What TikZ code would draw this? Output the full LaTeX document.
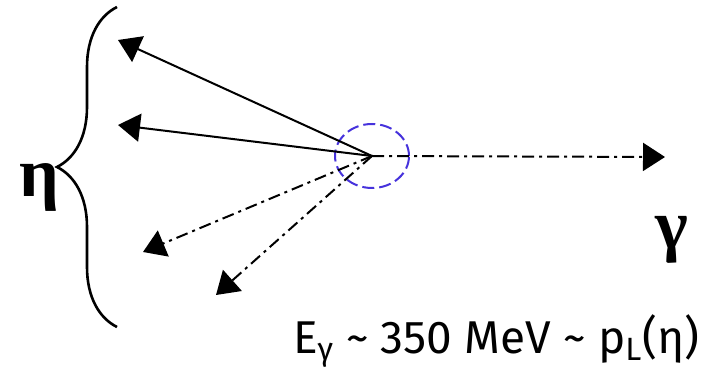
\documentclass[tikz,border=0pt]{standalone}
\usepackage{fontspec}
\setsansfont{Fira Sans}
\newfontfamily\grkfont{Liberation Serif}
\usepackage{tikz}
\usetikzlibrary{arrows.meta,shapes.geometric,decorations.pathreplacing}
\definecolor{vtxblue}{RGB}{70,50,220}

\begin{document}
\begin{tikzpicture}[x=0.5pt,y=-0.5pt,>={Triangle[length=11pt,width=14pt]},line width=1pt,
    decay/.style={->,dash pattern=on 6pt off 2.5pt on 1.5pt off 2.5pt},
    bigsym/.style={font=\grkfont\bfseries\fontsize{35}{35}\selectfont,inner sep=0pt}]
  \useasboundingbox (0,0) rectangle (727,368);

  % decay vertex
  \node[ellipse,draw=vtxblue,dash pattern=on 6pt off 2.5pt,minimum width=37pt,
        minimum height=32pt,inner sep=0pt] (vtx) at (372,156) {};

  % end points of the decay products
  \coordinate (pa) at (118,40);
  \coordinate (pb) at (118,125);
  \coordinate (pc) at (143,252);
  \coordinate (pd) at (216,295);
  \coordinate (pg) at (665,157);

  \draw[->] (vtx.center) -- (pa);
  \draw[->] (vtx.center) -- (pb);
  \draw[decay] (vtx.center) -- (pc);
  \draw[decay] (vtx.center) -- (pd);
  \draw[decay] (vtx.center) -- (pg);

  % eta brace and labels
  \coordinate (brbot) at (117,327);
  \coordinate (brtop) at (117,7);
  \draw[line width=1.3pt,decorate,decoration={brace,amplitude=30pt}] (brbot) -- (brtop);
  \node[bigsym,anchor=base] (eta) at (39,197) {η};
  \node[bigsym,anchor=base] (gam) at (672,249) {γ};
  \node[font=\sffamily\fontsize{23}{23}\selectfont,anchor=base west,inner sep=0pt] (elab)
    at (292,353) {E\textsubscript{γ} \char`~\ 350 MeV \char`~\ p\textsubscript{L}(η)};
\end{tikzpicture}
\end{document}
